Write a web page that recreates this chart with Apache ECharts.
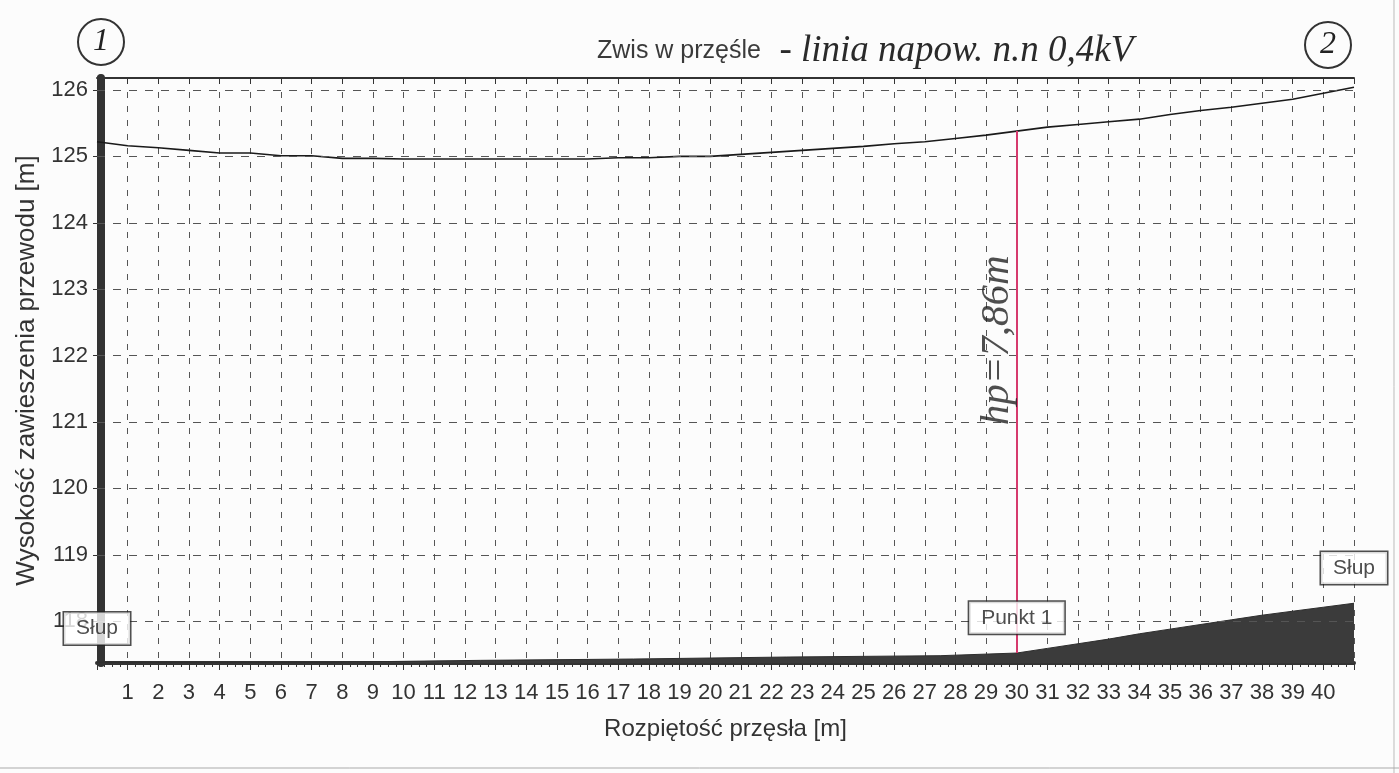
<!DOCTYPE html>
<html>
<head>
<meta charset="utf-8">
<title>Zwis w przęśle</title>
<script src="https://cdn.jsdelivr.net/npm/echarts@6/dist/echarts.min.js"></script>
<style>
html,body{margin:0;padding:0;background:#fcfcfc;}
#main{width:1399px;height:773px;}
</style>
</head>
<body>
<div id="main"></div>
<script>
// rozpiętość przęsła [m] - punkty pomiaru przewodu
var wireX = [0,1,2,3,4,5,6,7,8,9,10,11,12,13,14,15,16,17,18,19,20,
	21,22,23,24,25,26,27,28,29,30,31,32,33,34,35,36,37,38,39,40,41];
// wysokość zawieszenia przewodu [m]
var wireY = [125.22,125.16,125.13,125.09,125.05,125.05,125.01,125.01,124.97,124.97,124.96,
	124.96,124.96,124.96,124.96,124.96,124.96,124.98,124.98,125.00,125.00,
	125.03,125.06,125.09,125.12,125.15,125.19,125.22,125.27,125.32,125.38,
	125.44,125.48,125.52,125.56,125.63,125.69,125.74,125.80,125.86,125.95,126.04];
// profil terenu
var groundX = [0,7.5,7.5,12.5,12.5,17.5,17.5,22.5,22.5,27.5,27.5,30,31,32,33,34,35,36,37,38,39,40,41];
var groundY = [117.38,117.38,117.41,117.41,117.43,117.43,117.46,117.46,117.48,117.48,117.51,117.52,
	117.59,117.66,117.73,117.81,117.88,117.95,118.02,118.09,118.15,118.21,118.27];
// opisy
var yTicks = [118,119,120,121,122,123,124,125,126];
var boxNames = ["Słup","Słup","Punkt 1"];
var boxPos = [[0,117.89],[41,118.8],[30,118.05]];
var pointX = 30;
var hpText = "hp=7,86m";
var hpPos = [29.35,122.23];

var font = "Liberation Sans";
var dark = "#333";

var wireData = [];
for (var i = 0; i < wireX.length; i++) wireData.push([wireX[i], wireY[i]]);
var groundData = [];
for (var j = 0; j < groundX.length; j++) groundData.push([groundX[j], groundY[j]]);
var boxData = [];
for (var k = 0; k < boxNames.length; k++) boxData.push({name: boxNames[k], value: boxPos[k]});

var chart = echarts.init(document.getElementById("main"));

var option = {
	backgroundColor: "#fcfcfc",
	animation: false,
	title: {
		left: 592, top: 28,
		text: "{a|Zwis w przęśle}{b|  - linia napow. n.n 0,4kV}",
		textStyle: {
			fontWeight: "normal",
			rich: {
				a: {fontFamily: font, fontSize: 25, fontWeight: "normal", color: "#3a3a3a"},
				b: {fontFamily: "Liberation Serif", fontStyle: "italic", fontWeight: "normal", fontSize: 37, color: "#2a2a2a"}
			}
		}
	},
	grid: {left: 97, right: 45, top: 78, bottom: 110},
	xAxis: [{
		type: "value", min: 0, max: 41, interval: 1,
		name: "Rozpiętość przęsła [m]", nameLocation: "middle", nameGap: 54,
		nameTextStyle: {fontFamily: font, fontSize: 24, color: dark},
		axisLine: {lineStyle: {color: dark, width: 4}},
		axisTick: {length: 7, lineStyle: {color: dark}},
		minorTick: {show: true, splitNumber: 4, length: 4, lineStyle: {color: dark}},
		axisLabel: {fontFamily: font, fontSize: 22, color: dark, margin: 19,
			formatter: function (v) { return (v >= 1 && v <= 40) ? String(v) : ""; }},
		splitLine: {show: true, lineStyle: {type: [6, 8], color: "#555", width: 1}}
	}, {
		type: "value", min: 0, max: 41, interval: 1, position: "top",
		axisLine: {lineStyle: {color: dark, width: 2}},
		axisTick: {inside: true, length: 6, lineStyle: {color: dark}},
		axisLabel: {show: false},
		splitLine: {show: false}
	}],
	yAxis: [{
		type: "value", min: 117.37, max: 126.18, offset: -3,
		name: "Wysokość zawieszenia przewodu [m]", nameLocation: "middle", nameGap: 60,
		nameTextStyle: {fontFamily: font, fontSize: 26, color: dark},
		axisLine: {show: true, lineStyle: {color: dark, width: 7}},
		axisTick: {show: true, customValues: yTicks, length: 7, lineStyle: {color: dark}},
		axisLabel: {customValues: yTicks, fontFamily: font, fontSize: 22, color: dark, margin: 12},
		splitLine: {show: false}
	}, {
		type: "value", min: 117.37, max: 126.18, position: "right", offset: -4,
		axisLine: {show: true, lineStyle: {color: dark, width: 8}},
		axisTick: {show: false}, axisLabel: {show: false}, splitLine: {show: false}
	}],
	series: [{
		name: "siatka", type: "line", data: [], silent: true, z: 1,
		markLine: {
			silent: true, symbol: "none", label: {show: false},
			lineStyle: {type: [8, 8], color: "#555", width: 1},
			data: yTicks.map(function (v) { return {yAxis: v}; })
		}
	}, {
		name: "teren", type: "line", data: groundData, symbol: "none", z: 3,
		lineStyle: {color: "#2e2e2e", width: 1},
		areaStyle: {color: "#3b3b3b", opacity: 1, origin: "start"}
	}, {
		name: "przewód", type: "line", data: wireData, symbol: "none", z: 4,
		lineStyle: {color: "#1a1a1a", width: 1.6},
		markLine: {
			silent: true, symbol: "none", label: {show: false},
			lineStyle: {type: "solid", color: "#d63a6e", width: 2},
			data: [[{coord: [pointX, groundY[groundX.indexOf(pointX)]]}, {coord: [pointX, wireY[wireX.indexOf(pointX)]]}]]
		}
	}, {
		name: "opisy", type: "scatter", data: boxData, symbolSize: 0, z: 6,
		label: {
			show: true, position: "inside", formatter: "{b}",
			fontFamily: font, fontSize: 21, color: "#222",
			backgroundColor: "#fff", borderColor: "#222", borderWidth: 1.5,
			padding: [6, 12, 5, 12]
		}
	}, {
		name: "hp", type: "scatter", data: [hpPos], symbolSize: 0, z: 6,
		label: {
			show: true, position: "inside", rotate: 90, formatter: hpText,
			fontFamily: "Liberation Serif", fontStyle: "italic", fontSize: 41, color: "#222"
		}
	}],
	graphic: [
		{type: "circle", shape: {cx: 101, cy: 42, r: 23}, style: {fill: "none", stroke: "#333", lineWidth: 2}},
		{type: "text", x: 101, y: 42, style: {text: "1", fontSize: 32, fontStyle: "italic", fontFamily: "Liberation Serif", fill: "#222", align: "center", verticalAlign: "middle"}},
		{type: "circle", shape: {cx: 1328, cy: 45, r: 23}, style: {fill: "none", stroke: "#333", lineWidth: 2}},
		{type: "text", x: 1328, y: 45, style: {text: "2", fontSize: 32, fontStyle: "italic", fontFamily: "Liberation Serif", fill: "#222", align: "center", verticalAlign: "middle"}},
		{type: "line", shape: {x1: 1394, y1: 0, x2: 1394, y2: 773}, style: {stroke: "#bbb", lineWidth: 1}},
		{type: "line", shape: {x1: 0, y1: 768, x2: 1399, y2: 768}, style: {stroke: "#aaa", lineWidth: 1}}
	]
};

chart.setOption(option);
</script>
</body>
</html>
